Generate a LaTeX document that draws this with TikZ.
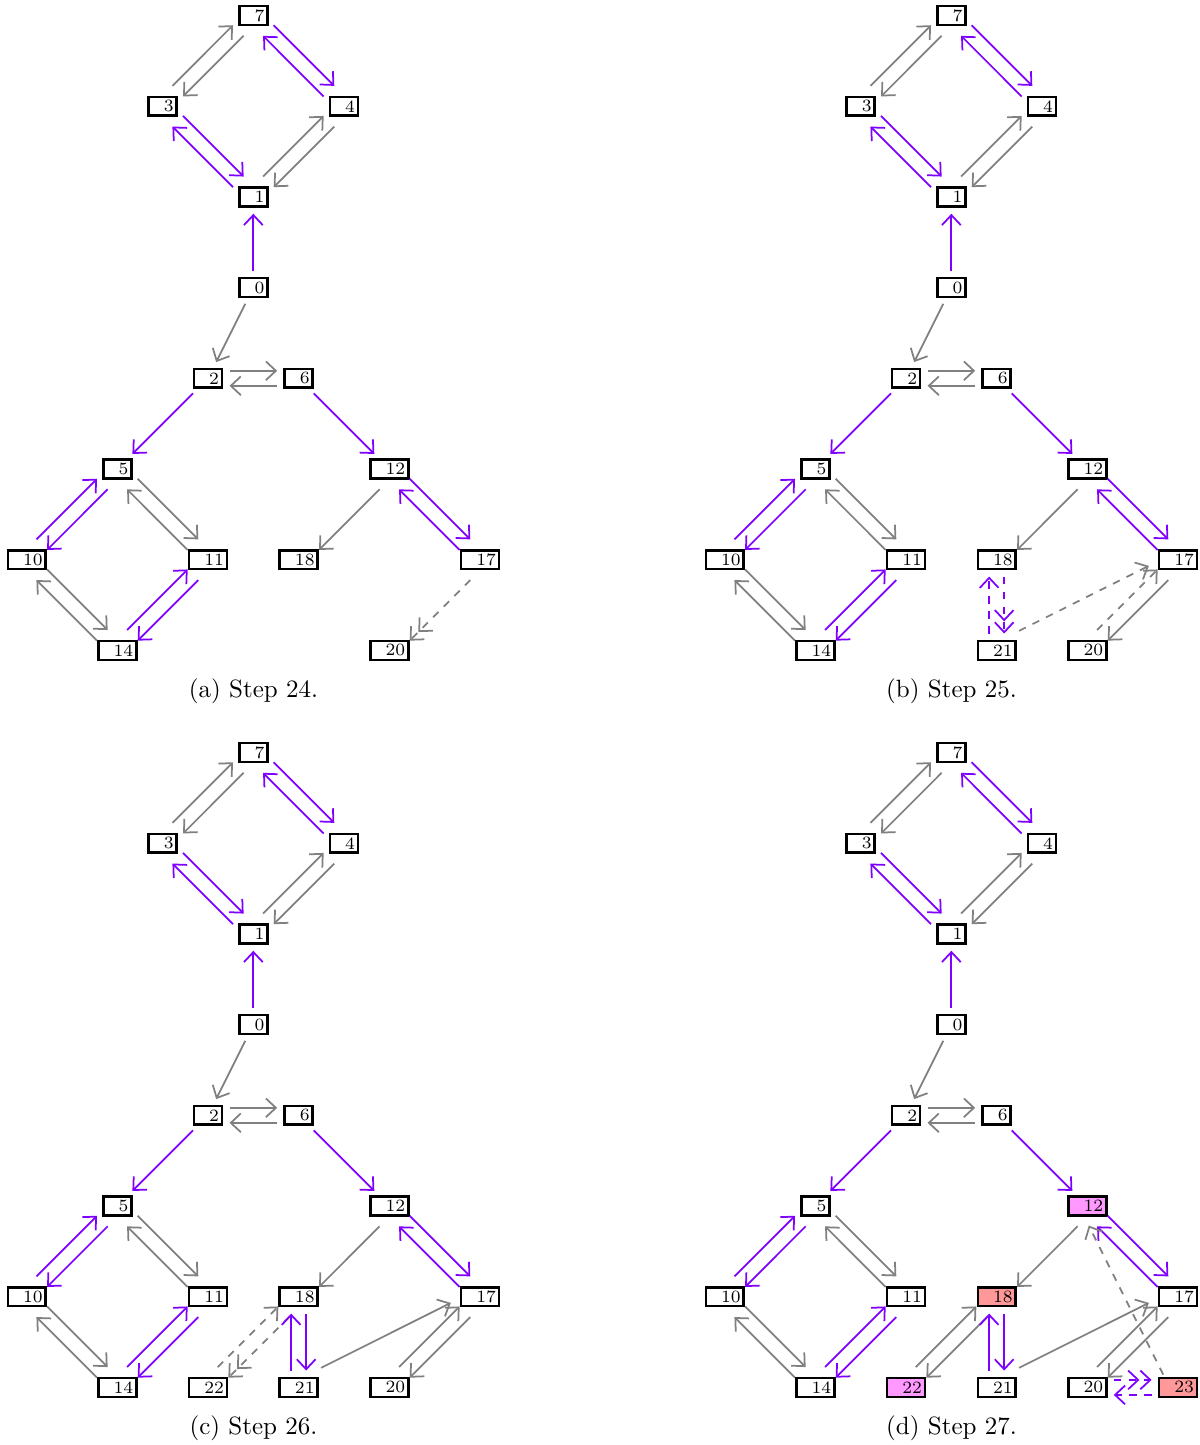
\documentclass[tikz,border=0pt]{standalone}
\usetikzlibrary{calc,arrows.meta}
\definecolor{purp}{RGB}{127,0,255}
\definecolor{grey}{RGB}{128,128,128}
\definecolor{pinkfill}{RGB}{255,153,255}
\definecolor{redfill}{RGB}{255,153,153}
\tikzset{
  stepnode/.style={draw, line width=1pt, inner sep=0pt, minimum height=7.5pt, font=\fontsize{6.9}{7.5}\selectfont},
  bb/.tip={Straight Barb[length=4pt,width=7.5pt]},
  ar/.style={line width=0.7pt, shorten <=2.5pt, shorten >=2.5pt, -{bb}},
  ar2/.style={line width=0.7pt, shorten <=2.5pt, shorten >=2.5pt, -{bb[sep=0pt] bb}},
  gr/.style={ar, draw=grey},
  pu/.style={ar, draw=purp},
  grd/.style={ar, draw=grey, dashed},
  pud/.style={ar, draw=purp, dashed},
  grdd/.style={ar2, draw=grey, dashed},
  pudd/.style={ar2, draw=purp, dashed},
  captext/.style={font=\fontsize{10}{12}\selectfont, anchor=base}
}
\def\dX{0}\def\dY{0}
\newcommand\lab[1]{\kern6.1pt#1\kern1.2pt}
\newcommand\N[5][]{\node[stepnode,#1] (#2) at ({26.7+45.33*#3+\dX},{15.5+90.7*#4+\dY}) {\lab{#5}};}
\newcommand\E[3]{%
  \path ($(#2)!3pt!90:(#3)$) coordinate (offtmp);
  \draw[#1, transform canvas={shift={($(offtmp)-(#2)$)}}] (#2) -- (#3);}
\newcommand\C[3]{\draw[#1] (#2) -- (#3);}
\newcommand\Upper[1]{%
  \N{#17}{5}{0}{7}
  \N{#13}{3}{1}{3}
  \N{#14}{7}{1}{4}
  \N{#11}{5}{2}{1}
  \N{#10}{5}{3}{0}
  \N{#12}{4}{4}{2}
  \N{#16}{6}{4}{6}
  \N{#15}{2}{5}{5}
  \N{#110}{0}{6}{10}
  \N{#111}{4}{6}{11}
  \N{#114}{2}{7}{14}
  \E{gr}{#13}{#17} \E{gr}{#17}{#13}
  \E{pu}{#17}{#14} \E{pu}{#14}{#17}
  \E{pu}{#13}{#11} \E{pu}{#11}{#13}
  \E{gr}{#11}{#14} \E{gr}{#14}{#11}
  \C{pu}{#10}{#11}
  \C{gr}{#10}{#12}
  \E{gr}{#12}{#16} \E{gr}{#16}{#12}
  \C{pu}{#12}{#15}
  \E{pu}{#15}{#110} \E{pu}{#110}{#15}
  \E{gr}{#15}{#111} \E{gr}{#111}{#15}
  \E{gr}{#110}{#114} \E{gr}{#114}{#110}
  \E{pu}{#111}{#114} \E{pu}{#114}{#111}
}
\begin{document}
\begin{tikzpicture}[x=0.4pt, y=-0.4pt]
\useasboundingbox (0,0) rectangle (1199,1445);
% ---------- (a) ----------
\def\dX{0}\def\dY{0}
\Upper{a}
\N{a12}{8}{5}{12}
\N{a18}{6}{6}{18}
\N{a17}{10}{6}{17}
\N{a20}{8}{7}{20}
\C{pu}{a6}{a12}
\E{gr}{a12}{a18}
\E{pu}{a12}{a17} \E{pu}{a17}{a12}
\E{grdd}{a17}{a20}
\node[captext] (capa) at (253.5,697) {(a) Step 24.};
% ---------- (b) ----------
\def\dX{698}\def\dY{0}
\Upper{b}
\N{b12}{8}{5}{12}
\N{b18}{6}{6}{18}
\N{b17}{10}{6}{17}
\N{b21}{6}{7}{21}
\N{b20}{8}{7}{20}
\C{pu}{b6}{b12}
\E{gr}{b12}{b18}
\E{pu}{b12}{b17} \E{pu}{b17}{b12}
\E{pud}{b21}{b18} \E{pudd}{b18}{b21}
\E{grd}{b21}{b17}
\E{grd}{b20}{b17} \E{gr}{b17}{b20}
\node[captext] (capb) at (951.5,697) {(b) Step 25.};
% ---------- (c) ----------
\def\dX{0}\def\dY{737}
\Upper{c}
\N{c12}{8}{5}{12}
\N{c18}{6}{6}{18}
\N{c17}{10}{6}{17}
\N{c22}{4}{7}{22}
\N{c21}{6}{7}{21}
\N{c20}{8}{7}{20}
\C{pu}{c6}{c12}
\E{gr}{c12}{c18}
\E{pu}{c12}{c17} \E{pu}{c17}{c12}
\E{grd}{c22}{c18} \E{grdd}{c18}{c22}
\E{pu}{c21}{c18} \E{pu}{c18}{c21}
\E{gr}{c21}{c17}
\E{gr}{c20}{c17} \E{gr}{c17}{c20}
\node[captext] (capc) at (253.5,1434) {(c) Step 26.};
% ---------- (d) ----------
\def\dX{698}\def\dY{737}
\Upper{d}
\N[fill=pinkfill]{d12}{8}{5}{12}
\N[fill=redfill]{d18}{6}{6}{18}
\N{d17}{10}{6}{17}
\N[fill=pinkfill]{d22}{4}{7}{22}
\N{d21}{6}{7}{21}
\N{d20}{8}{7}{20}
\N[fill=redfill]{d23}{10}{7}{23}
\C{pu}{d6}{d12}
\E{gr}{d12}{d18}
\E{pu}{d12}{d17} \E{pu}{d17}{d12}
\E{gr}{d22}{d18} \E{gr}{d18}{d22}
\E{pu}{d21}{d18} \E{pu}{d18}{d21}
\E{gr}{d21}{d17}
\E{gr}{d20}{d17} \E{gr}{d17}{d20}
\E{pudd}{d20}{d23} \E{pud}{d23}{d20}
\E{grd}{d23}{d12}
\node[captext] (capd) at (951.5,1434) {(d) Step 27.};
\end{tikzpicture}
\end{document}
